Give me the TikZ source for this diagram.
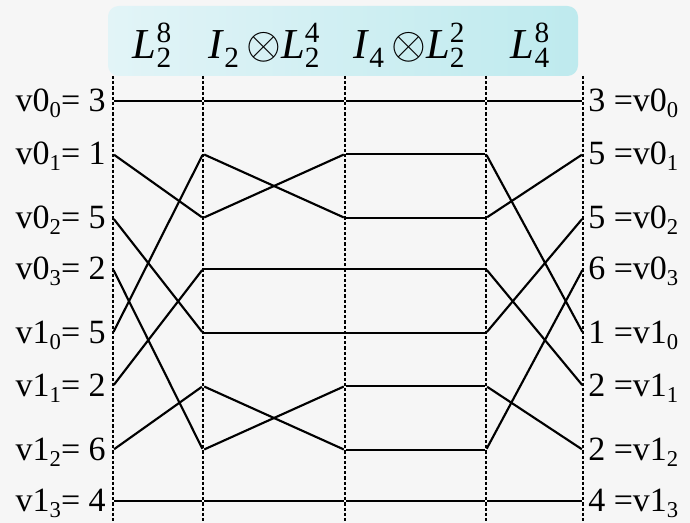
\documentclass[tikz,border=0pt]{standalone}
\usepackage{fontspec}
\setmainfont{Liberation Serif}
\usetikzlibrary{backgrounds}

\definecolor{headleft}{RGB}{226,244,247}
\definecolor{headright}{RGB}{190,234,238}
\definecolor{pagegray}{RGB}{246,246,246}

% script digits for the labels
\newcommand\idx[1]{\raisebox{-0.16em}{\fontsize{17}{17}\selectfont #1}}
\newcommand\hscr[1]{{\fontsize{22}{22}\selectfont #1}}
\newcommand\perm[3]{\textit{#1}\rlap{\raisebox{0.39em}{\hscr{#3}}}\raisebox{-0.21em}{\hscr{#2}}}
\newcommand\kron{\,\scalebox{1.35}{$\otimes$}}

\tikzset{
  guide/.style={line width=1.3pt, dash pattern=on 2.4pt off 1.5pt},
  wire/.style={line width=1.6pt, shorten <=1pt, shorten >=1pt},
  inlab/.style={anchor=base east, inner sep=0pt, font=\fontsize{25.5}{30}\selectfont},
  outlab/.style={anchor=base west, inner sep=0pt, font=\fontsize{25.5}{30}\selectfont},
  headlab/.style={anchor=base, inner sep=0pt, font=\fontsize{32}{36}\selectfont},
  headbox/.style={rounded corners=8pt, left color=headleft, right color=headright,
    minimum width=352.5pt, minimum height=52.5pt, inner sep=0pt},
}

\begin{document}
\begin{tikzpicture}[x=0.75pt, y=-0.75pt]
  \fill[pagegray] (0,0) rectangle (690,523);
  \useasboundingbox (0,0) rectangle (690,523);

  \node[headbox] (head) at (343,41) {};
  \node[headlab] (h1) at (152,59) {\perm{L}{2}{8}};
  \node[headlab] (h2) at (264,59) {\textit{I}\raisebox{-0.21em}{\hscr{2}}\kron\perm{L}{2}{4}};
  \node[headlab] (h3) at (409,59) {\textit{I}\raisebox{-0.21em}{\hscr{4}}\kron\perm{L}{2}{2}};
  \node[headlab] (h4) at (530,59) {\perm{L}{4}{8}};

  % points on the five dotted columns
  \foreach \x [count=\c from 0] in {113,203,345,486,583}{
    \coordinate (top\c) at (\x,76);
    \coordinate (bot\c) at (\x,523);
    \draw[guide] (top\c) -- (bot\c);
    \foreach \y [count=\r from 0] in {101,154,218,269,333,386,450,501}
      \coordinate (p\c-\r) at (\x,\y);
  }

  % input and output values
  \foreach \r/\a/\b/\vin/\vout in {0/0/0/3/3,1/0/1/1/5,2/0/2/5/5,3/0/3/2/6,
                                   4/1/0/5/1,5/1/1/2/2,6/1/2/6/2,7/1/3/4/4}{
    \node[inlab] (in\r) at ([shift={(-7,11)}]p0-\r) {v\a\idx{\b}= \vin};
    \node[outlab] (out\r) at ([shift={(5,11)}]p4-\r) {\vout{} =v\a\idx{\b}};
  }

  % the four stages
  \foreach \s/\t in {0/0,1/2,2/4,3/6,4/1,5/3,6/5,7/7}
    \draw[wire] (p0-\s) -- (p1-\t);
  \foreach \s/\t in {0/0,1/2,2/1,3/3,4/4,5/6,6/5,7/7}
    \draw[wire] (p1-\s) -- (p2-\t);
  \foreach \s in {0,...,7}
    \draw[wire] (p2-\s) -- (p3-\s);
  \foreach \s/\t in {0/0,1/4,2/1,3/5,4/2,5/6,6/3,7/7}
    \draw[wire] (p3-\s) -- (p4-\t);
\end{tikzpicture}
\end{document}
